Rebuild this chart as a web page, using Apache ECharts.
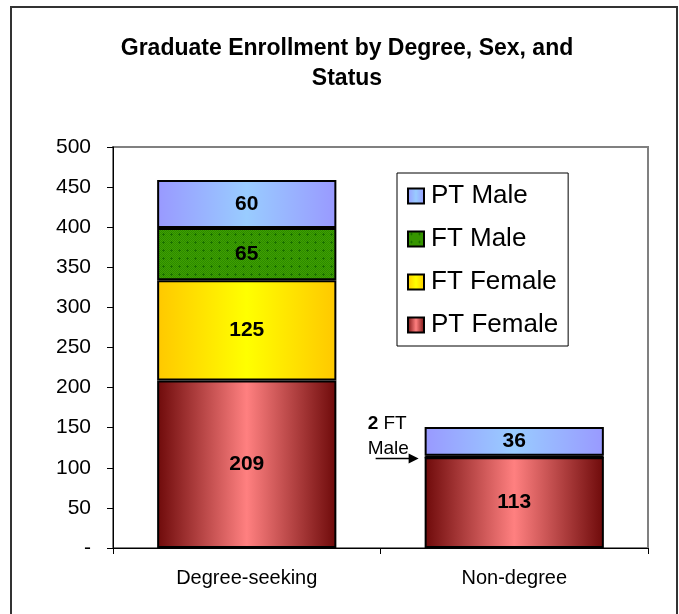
<!DOCTYPE html>
<html>
<head>
<meta charset="utf-8">
<script src="https://cdn.jsdelivr.net/npm/echarts@6/dist/echarts.min.js"></script>
<style>
  html, body { margin: 0; padding: 0; background: #fff; }
  #main { width: 679px; height: 614px; }
</style>
</head>
<body>
<div id="main"></div>
<script>
var categories = ["Degree-seeking", "Non-degree"];
var ptFemale = [209, 113];
var ftFemale = [125, 0];
var ftMale = [65, 2];
var ptMale = [60, 36];
var legendOrder = ["PT Male", "FT Male", "FT Female", "PT Female"];

var FONT = "Liberation Sans, Arial, sans-serif";

function hGrad(edgeL, mid, edgeR) {
    return new echarts.graphic.LinearGradient(0, 0, 1, 0, [
        { offset: 0, color: edgeL },
        { offset: 0.5, color: mid },
        { offset: 1, color: edgeR }
    ]);
}

// green dotted fill like the excel pattern
function greenPattern() {
    var c = document.createElement("canvas");
    c.width = 8; c.height = 8;
    var g = c.getContext("2d");
    g.fillStyle = "#40a000";
    g.fillRect(0, 0, 8, 8);
    g.fillStyle = "#2c8a00";
    for (var i = 0; i < 8; i++) {
        for (var j = 0; j < 8; j++) {
            if ((i + j) % 2 === 0) g.fillRect(i, j, 1, 1);
        }
    }
    g.fillStyle = "#1a7000";
    g.fillRect(3, 1, 1, 3);
    g.fillRect(2, 2, 3, 1);
    return { image: c, repeat: "repeat" };
}

var lbl = {
    show: true,
    position: "inside",
    color: "#000",
    fontFamily: FONT,
    fontWeight: "bold",
    fontSize: 21,
    formatter: function (p) { return p.value >= 5 ? p.value : ""; }
};

function barSeries(name, data, color) {
    return {
        name: name,
        type: "bar",
        stack: "all",
        barCategoryGap: "33%",
        data: data,
        label: lbl,
        itemStyle: { color: color, borderColor: "#000", borderWidth: 2 },
        emphasis: { disabled: true }
    };
}

var chart = echarts.init(document.getElementById("main"));

var option = {
    animation: false,
    backgroundColor: "#fff",
    title: {
        text: "Graduate Enrollment by Degree, Sex, and\nStatus",
        left: 342,
        textAlign: "center",
        top: 29,
        textStyle: { fontFamily: FONT, fontSize: 23, fontWeight: "bold", color: "#000", lineHeight: 30 }
    },
    legend: {
        data: legendOrder,
        orient: "vertical",
        left: 397,
        top: 173,
        padding: [10, 10, 8, 10],
        itemGap: 17,
        itemWidth: 16,
        itemHeight: 15,
        icon: "rect",
        borderColor: "#000",
        borderWidth: 1,
        textStyle: { fontFamily: FONT, fontSize: 26, color: "#000", padding: [0, 0, 0, 2] },
        itemStyle: { borderColor: "#000", borderWidth: 2 }
    },
    grid: {
        left: 113, right: 31, top: 147, bottom: 66,
        show: true, borderColor: "#808080", borderWidth: 2
    },
    xAxis: {
        type: "category",
        data: categories,
        axisLine: { lineStyle: { color: "#000", width: 1 } },
        axisTick: { show: true, length: 6, lineStyle: { color: "#000" } },
        axisLabel: { margin: 20, color: "#000", fontFamily: FONT, fontSize: 20 }
    },
    yAxis: {
        type: "value",
        min: 0, max: 500, interval: 50,
        splitLine: { show: false },
        axisLine: { show: true, lineStyle: { color: "#000", width: 1 } },
        axisTick: { show: true, length: 6, lineStyle: { color: "#000" } },
        axisLabel: {
            margin: 22, color: "#000", fontFamily: FONT, fontSize: 21,
            formatter: function (v) { return v === 0 ? "-" : v; }
        }
    },
    graphic: [
        {
            type: "rect", silent: true, z: 100,
            shape: { x: 11, y: 7, width: 666, height: 640 },
            style: { fill: null, stroke: "#333", lineWidth: 2 }
        }
    ],
    series: [
        barSeries("PT Female", ptFemale, hGrad("#6e0a0a", "#ff8080", "#6e0a0a")),
        barSeries("FT Female", ftFemale, hGrad("#ffc800", "#ffff00", "#ffc800")),
        barSeries("FT Male", ftMale, greenPattern()),
        barSeries("PT Male", ptMale, hGrad("#9999ff", "#99ccff", "#9999ff"))
    ]
};

chart.setOption(option);

// callout for the tiny FT Male piece on the Non-degree bar
var lay = chart.getModel().getSeriesByIndex(2).getData().getItemLayout(1);
var bx = lay.x;
var by = lay.y + lay.height / 2;
chart.setOption({
    graphic: [
        option.graphic[0],
        {
            type: "text", silent: true,
            style: {
                x: bx - 57, y: by - 45,
                text: "{b|2} FT\nMale",
                fill: "#000",
                font: "19px " + FONT,
                lineHeight: 25,
                rich: { b: { fontWeight: "bold", fontSize: 19, fontFamily: FONT } }
            }
        },
        {
            type: "line", silent: true,
            shape: { x1: bx - 49, y1: by + 2, x2: bx - 14, y2: by + 2 },
            style: { stroke: "#000", lineWidth: 1.5 }
        },
        {
            type: "polygon", silent: true,
            shape: { points: [[bx - 16, by - 3], [bx - 6, by + 2], [bx - 16, by + 7]] },
            style: { fill: "#000" }
        }
    ]
});
</script>
</body>
</html>
